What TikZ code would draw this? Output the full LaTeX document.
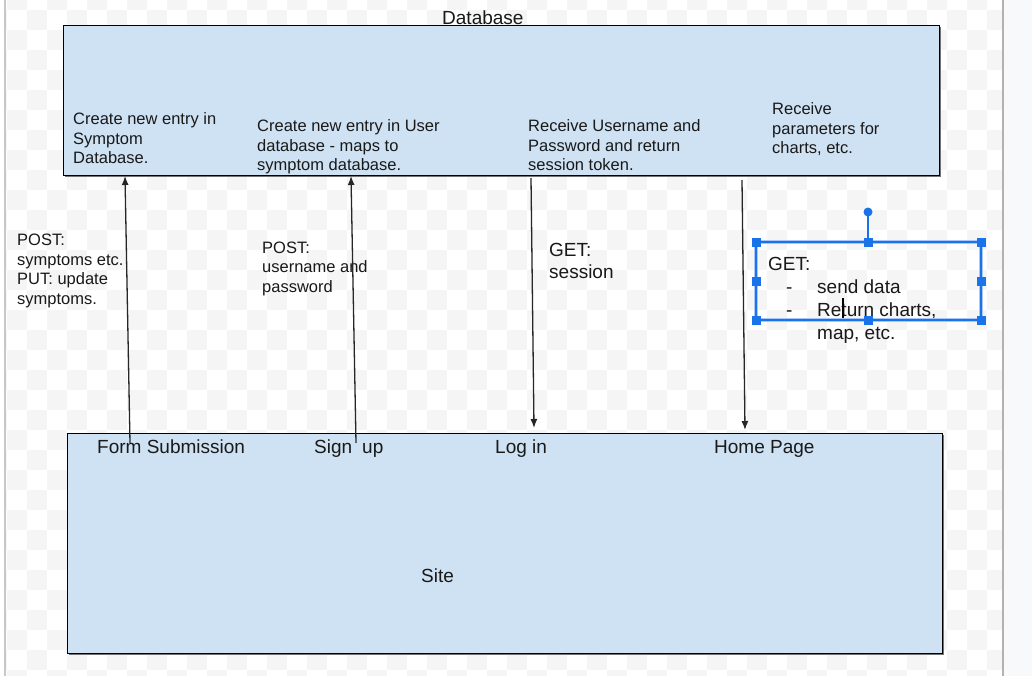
\documentclass[tikz,border=0pt]{standalone}
\usepackage{fontspec}
\setmainfont{Liberation Sans}
\usetikzlibrary{arrows.meta}
\definecolor{boxblue}{HTML}{CFE2F3}
\definecolor{chk}{HTML}{F5F5F5}
\definecolor{selblue}{HTML}{1A73E8}
\definecolor{selhalo}{HTML}{A8C7FA}
\definecolor{sidegray}{HTML}{F8F9FA}
\tikzset{
  panel/.style={draw=black, line width=1.2pt, fill=boxblue, inner sep=0pt, anchor=north west},
  small/.style={font=\fontsize{16.5}{19.5}\selectfont, inner sep=0pt, anchor=base west, align=left, text=black!90},
  big/.style={font=\fontsize{19}{22}\selectfont, inner sep=0pt, anchor=base west, align=left, text=black!90},
  conn/.style={draw=black!85, line width=1.3pt, -{Latex[length=9pt,width=7pt]}},
  handle/.style={fill=selblue, draw=none, minimum size=9pt, inner sep=0pt},
}
\begin{document}
\begin{tikzpicture}[x=1pt,y=-1pt]
\useasboundingbox (0,0) rectangle (1032,676);
% background
\fill[white] (0,0) rectangle (1032,676);
\begin{scope}
\clip (5,0) rectangle (1003,676);
\foreach \c in {-1,...,50}{
  \foreach \r in {-1,...,34}{
    \pgfmathtruncatemacro{\myparity}{mod(\c+\r+100,2)}
    \ifnum\myparity=1
      \fill[chk] ({7+20*\c},{10+20*\r}) rectangle ++(20,20);
    \fi
  }
}
\end{scope}
\fill[sidegray] (1003,0) rectangle (1032,676);
\draw[black!22, line width=1.2pt] (5,0) -- (5,676);
\draw[black!30, line width=1.2pt] (1003,0) -- (1003,676);

% panels
\fill[black!55] (65,27) rectangle (941,177);
\node[panel, minimum width=876pt, minimum height=150pt] (db) at (63,25) {};
\fill[black!55] (69,435) rectangle (944,655);
\node[panel, minimum width=875pt, minimum height=220pt] (site) at (67,433) {};

% titles
\node[big] (dbt) at (442,24.5) {Database};
\node[big] (sitet) at (421,582) {Site};

% database texts (anchor = baseline of last line)
\node[small] (t1) at (73,164) {Create new entry in\\Symptom\\Database.};
\node[small] (t2) at (257,171) {Create new entry in User\\database - maps to\\symptom database.};
\node[small] (t3) at (528,171) {Receive Username and\\Password and return\\session token.};
\node[small] (t4) at (772,154) {Receive\\parameters for\\charts, etc.};

% site labels
\node[big] (fs) at (97,453) {Form Submission};
\node[big] (su) at (314,453) {Sign\hspace{10pt}up};
\node[big] (li) at (495,453) {Log in};
\node[big] (hp) at (714,453) {Home Page};

% connector labels
\node[small] (l1) at (17,304) {POST:\\symptoms etc.\\PUT: update\\symptoms.};
\node[small] (l2) at (262,292) {POST:\\username and\\password};
\node[big, font=\fontsize{19}{21.5}\selectfont] (l3) at (549,278) {GET:\\session};

% connectors
\coordinate (a1s) at (130,443); \coordinate (a1e) at (125,176);
\coordinate (a2s) at (356,443); \coordinate (a2e) at (351,176);
\coordinate (a3s) at (531,178); \coordinate (a3e) at (534,428);
\coordinate (a4s) at (742,180); \coordinate (a4e) at (745,430);
\draw[conn] (a1s) -- (a1e);
\draw[conn] (a2s) -- (a2e);
\draw[conn] (a3s) -- (a3e);
\draw[conn] (a4s) -- (a4e);

% selected text box
\node[big] (g0) at (768,270) {GET:};
\node[big] (gd1) at (786,293) {-};
\node[big] (gd2) at (786,316) {-};
\node[big] (g1) at (817,293) {send data};
\node[big] (g2) at (817,316) {Return charts,};
\node[big] (g3) at (817,339) {map, etc.};
\fill[black] (841.5,298) rectangle (843.5,319);
\draw[selhalo, line width=3.5pt] (756,242) rectangle (981,320);
\draw[selblue, line width=1.5pt] (756,242) rectangle (981,320);
\coordinate (rot) at (868,212);
\draw[selblue, line width=1.5pt] (868,242) -- (rot);
\fill[selblue] (rot) circle (4.5);
\foreach \p in {(756,242),(868,242),(981,242),(756,281),(981,281),(756,320),(868,320),(981,320)}
  \node[handle] at \p {};
\end{tikzpicture}
\end{document}
